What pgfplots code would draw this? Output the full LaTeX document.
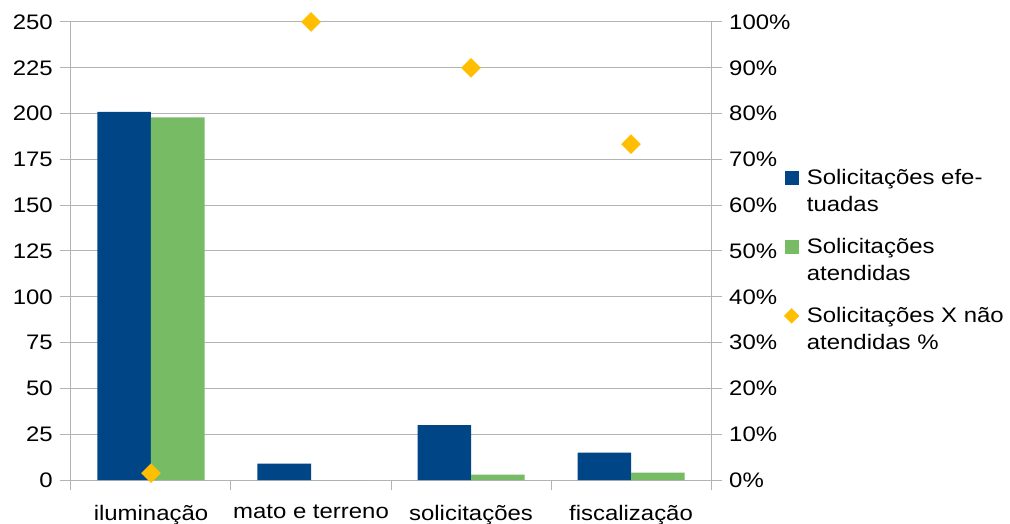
\documentclass[border=0pt]{standalone}
\usepackage{fontspec}
\setmainfont{Liberation Sans}[FakeStretch=1.14]
\usepackage{pgfplots}
\pgfplotsset{compat=1.18}
\definecolor{cblue}{HTML}{004586}
\definecolor{cgreen}{HTML}{77BC65}
\definecolor{cgold}{HTML}{FFBF00}
\definecolor{cgrid}{HTML}{B3B3B3}
\begin{document}
\fontsize{21bp}{27.5bp}\selectfont
\begin{tikzpicture}
\begin{axis}[name=ax, width=640bp, height=458bp, scale only axis,
 xmin=-0.5, xmax=3.5, ymin=0, ymax=250, ytick={0,25,...,250},
 xtick={0,1,2,3}, xticklabels={iluminação, mato e terreno, solicitações, fiscalização},
 minor xtick={-0.5,0.5,1.5,2.5,3.5},
 major x tick style={draw=none},
 xticklabel style={yshift=-7bp},
 tick pos=left,
 tick align=outside, major tick length=11bp, minor tick length=10bp,
 tick style={cgrid, line width=1bp},
 ymajorgrids, grid style={cgrid, line width=1bp},
 axis line style={cgrid, line width=1bp},
 ybar=0pt, bar width=53.5bp,
 /pgf/number format/assume math mode=true,
]
\addplot[fill=cblue, draw=none] coordinates {(0,201) (1,9) (2,30) (3,15)};
\addplot[fill=cgreen, draw=none] coordinates {(0,198) (1,0) (2,3) (3,4)};
\end{axis}
\begin{axis}[width=640bp, height=458bp, scale only axis,
 xmin=-0.5, xmax=3.5, ymin=0, ymax=100, ytick={0,10,...,100},
 axis x line=none, axis y line*=right,
 yticklabel={\pgfmathprintnumber{\tick}\%},
 tick align=outside, major tick length=11bp,
 tick style={cgrid, line width=1bp},
 axis line style={-, cgrid, line width=1bp},
 /pgf/number format/assume math mode=true,
 clip=false,
 legend image code/.code={\draw[#1] plot coordinates {(0bp,14bp)};},
 legend style={at={(1,0.5)}, anchor=west, xshift=70bp, yshift=-10bp, draw=none, fill=none,
   cells={anchor=west, align=left}, row sep=19bp,
   /tikz/every odd column/.append style={column sep=6bp}},
]
\addlegendimage{only marks, mark=square*, mark size=6.5bp, color=cblue}
\addlegendentry{Solicitações efe-\\tuadas}
\addlegendimage{only marks, mark=square*, mark size=6.5bp, color=cgreen}
\addlegendentry{Solicitações\\atendidas}
\addlegendimage{only marks, mark=square*, mark size=5.2bp, color=cgold, mark options={rotate=45}}
\addlegendentry{Solicitações X não\\atendidas \%}
\addplot[only marks, mark=square*, mark size=6.7bp, color=cgold, mark options={rotate=45}, forget plot]
 coordinates {(0,1.5) (1,100) (2,90) (3,73.33)};
\end{axis}
\pgfresetboundingbox
\path ([xshift=-71bp,yshift=-44bp]ax.south west) rectangle ([xshift=299bp,yshift=22bp]ax.north east);
\end{tikzpicture}
\end{document}
